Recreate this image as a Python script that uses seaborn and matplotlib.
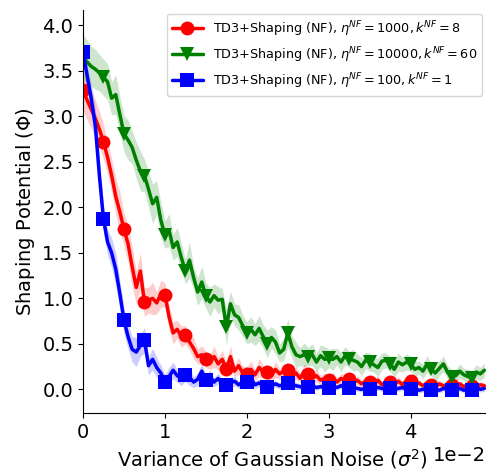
import numpy as np
import pandas as pd
import matplotlib
matplotlib.use("Agg")
import matplotlib.pyplot as plt
import seaborn as sns

# noise variance grid (step 0.0005)
noise_var = np.linspace(0.0, 0.049, 99)

red_mean = [3.29, 3.18, 3.08, 2.98, 2.86, 2.72, 2.55, 2.35, 2.12, 1.95,
            1.76, 1.60, 1.35, 1.12, 1.30, 0.96, 0.98, 1.00, 0.95, 1.05,
            1.04, 0.80, 0.62, 0.66, 0.58, 0.60, 0.52, 0.45, 0.36, 0.38,
            0.33, 0.30, 0.36, 0.28, 0.33, 0.22, 0.36, 0.20, 0.26, 0.18,
            0.17, 0.22, 0.16, 0.24, 0.19, 0.19, 0.15, 0.22, 0.17, 0.20,
            0.21, 0.14, 0.18, 0.12, 0.20, 0.17, 0.12, 0.15, 0.10, 0.12,
            0.10, 0.13, 0.08, 0.12, 0.09, 0.11, 0.07, 0.10, 0.06, 0.09,
            0.08, 0.06, 0.10, 0.05, 0.08, 0.08, 0.06, 0.09, 0.05, 0.10,
            0.09, 0.05, 0.07, 0.04, 0.07, 0.05, 0.03, 0.06, 0.04, 0.05,
            0.05, 0.03, 0.06, 0.03, 0.05, 0.04, 0.03, 0.05, 0.04]
red_err = [0.22, 0.22, 0.21, 0.20, 0.20, 0.19, 0.18, 0.18, 0.20, 0.22,
           0.18, 0.20, 0.22, 0.18, 0.20, 0.16, 0.14, 0.18, 0.12, 0.15,
           0.13, 0.14, 0.12, 0.10, 0.12, 0.10, 0.09, 0.12, 0.08, 0.10,
           0.09, 0.08, 0.12, 0.07, 0.10, 0.08, 0.12, 0.07, 0.09, 0.07,
           0.08, 0.09, 0.06, 0.10, 0.07, 0.08, 0.06, 0.09, 0.06, 0.07,
           0.08, 0.06, 0.07, 0.05, 0.08, 0.06, 0.05, 0.07, 0.05, 0.06,
           0.05, 0.06, 0.04, 0.06, 0.05, 0.05, 0.04, 0.05, 0.04, 0.05,
           0.05, 0.04, 0.05, 0.04, 0.04, 0.05, 0.04, 0.05, 0.04, 0.04,
           0.04, 0.04, 0.04, 0.03, 0.04, 0.04, 0.03, 0.04, 0.03, 0.03,
           0.04, 0.03, 0.04, 0.03, 0.03, 0.03, 0.03, 0.03, 0.03]

green_mean = [3.65, 3.60, 3.55, 3.52, 3.48, 3.43, 3.38, 3.20, 3.24, 3.02,
              2.81, 2.74, 2.66, 2.52, 2.40, 2.35, 2.20, 2.04, 2.11, 1.86,
              1.70, 1.75, 1.56, 1.62, 1.45, 1.30, 1.42, 1.23, 1.07, 1.18,
              1.03, 0.96, 1.03, 0.98, 0.99, 0.68, 0.94, 0.82, 0.79, 0.70,
              0.62, 0.66, 0.60, 0.67, 0.58, 0.50, 0.57, 0.52, 0.40, 0.44,
              0.62, 0.47, 0.38, 0.36, 0.38, 0.36, 0.38, 0.30, 0.37, 0.33,
              0.34, 0.33, 0.36, 0.30, 0.37, 0.33, 0.32, 0.30, 0.25, 0.32,
              0.30, 0.27, 0.24, 0.31, 0.32, 0.28, 0.22, 0.30, 0.27, 0.30,
              0.28, 0.22, 0.24, 0.20, 0.28, 0.22, 0.18, 0.23, 0.28, 0.19,
              0.14, 0.15, 0.20, 0.16, 0.14, 0.13, 0.19, 0.17, 0.21]
green_err = [0.25, 0.24, 0.22, 0.22, 0.20, 0.20, 0.20, 0.18, 0.22, 0.20,
             0.20, 0.22, 0.18, 0.20, 0.22, 0.18, 0.20, 0.22, 0.18, 0.20,
             0.15, 0.18, 0.14, 0.16, 0.15, 0.14, 0.20, 0.12, 0.15, 0.18,
             0.14, 0.16, 0.13, 0.15, 0.12, 0.20, 0.14, 0.12, 0.14, 0.12,
             0.12, 0.14, 0.12, 0.14, 0.13, 0.15, 0.12, 0.13, 0.10, 0.12,
             0.16, 0.12, 0.14, 0.10, 0.13, 0.10, 0.12, 0.10, 0.12, 0.14,
             0.10, 0.12, 0.09, 0.11, 0.10, 0.09, 0.12, 0.09, 0.10, 0.09,
             0.10, 0.08, 0.10, 0.09, 0.08, 0.08, 0.09, 0.10, 0.08, 0.09,
             0.08, 0.09, 0.07, 0.08, 0.09, 0.07, 0.12, 0.08, 0.09, 0.07,
             0.08, 0.07, 0.08, 0.07, 0.08, 0.07, 0.08, 0.07, 0.08]

blue_mean = [3.71, 3.45, 3.20, 2.90, 2.35, 1.87, 1.62, 1.50, 1.32, 1.05,
             0.76, 0.58, 0.44, 0.41, 0.48, 0.54, 0.26, 0.33, 0.24, 0.18,
             0.08, 0.14, 0.21, 0.15, 0.12, 0.16, 0.13, 0.08, 0.11, 0.20,
             0.10, 0.14, 0.08, 0.12, 0.06, 0.05, 0.07, 0.09, 0.05, 0.08,
             0.08, 0.12, 0.05, 0.07, 0.04, 0.03, 0.04, 0.06, 0.04, 0.05,
             0.07, 0.05, 0.04, 0.03, 0.02, 0.03, 0.04, 0.02, 0.03, 0.02,
             0.02, 0.03, 0.02, 0.04, 0.02, 0.01, 0.02, 0.01, 0.00, 0.01,
             0.00, 0.01, 0.02, 0.01, 0.00, 0.01, 0.00, 0.01, 0.02, 0.00,
             0.00, 0.01, -0.01, 0.00, 0.01, -0.01, 0.00, -0.01, 0.01, 0.00,
             -0.01, 0.00, 0.01, -0.01, 0.00, -0.01, 0.02, 0.00, 0.01]
blue_err = [0.10, 0.12, 0.15, 0.18, 0.20, 0.15, 0.14, 0.16, 0.18, 0.15,
            0.14, 0.13, 0.14, 0.16, 0.12, 0.14, 0.10, 0.12, 0.11, 0.09,
            0.08, 0.10, 0.09, 0.07, 0.08, 0.07, 0.09, 0.06, 0.07, 0.08,
            0.06, 0.07, 0.05, 0.06, 0.05, 0.05, 0.06, 0.05, 0.04, 0.05,
            0.04, 0.05, 0.04, 0.04, 0.03, 0.04, 0.03, 0.04, 0.03, 0.04,
            0.04, 0.03, 0.04, 0.03, 0.03, 0.04, 0.03, 0.03, 0.03, 0.03,
            0.03, 0.03, 0.03, 0.03, 0.03, 0.03, 0.03, 0.03, 0.03, 0.03,
            0.03, 0.03, 0.03, 0.03, 0.03, 0.03, 0.03, 0.03, 0.03, 0.03,
            0.03, 0.03, 0.03, 0.03, 0.03, 0.03, 0.03, 0.03, 0.03, 0.03,
            0.03, 0.03, 0.03, 0.03, 0.03, 0.03, 0.03, 0.03, 0.03]

labels = [r"TD3+Shaping (NF), $\eta^{NF}=1000, k^{NF}=8$",
          r"TD3+Shaping (NF), $\eta^{NF}=10000, k^{NF}=60$",
          r"TD3+Shaping (NF), $\eta^{NF}=100, k^{NF}=1$"]
colors = ["red", "green", "blue"]
markers = ["o", "v", "s"]
means = [red_mean, green_mean, blue_mean]
errs = [red_err, green_err, blue_err]

sns.set_style("ticks", {"axes.edgecolor": "black", "xtick.color": "black",
                        "ytick.color": "black", "text.color": "black",
                        "axes.labelcolor": "black"})
plt.rcParams["font.family"] = ["DejaVu Sans"]

fig = plt.figure(figsize=(4.86, 4.74), dpi=100)
ax = fig.add_axes([83 / 486, 61 / 474, (486 - 83) / 486, (464 - 61) / 474])

for lab, col, mk, m, e in zip(labels, colors, markers, means, errs):
    m = np.array(m)
    e = np.array(e)
    df = pd.DataFrame({"x": noise_var, "y": m})
    sns.lineplot(data=df, x="x", y="y", ax=ax, color=col, marker=mk,
                 markevery=5, markersize=10, markeredgewidth=0,
                 linewidth=2.5, label=lab)
    ax.fill_between(noise_var, m - e, m + e, color=col, alpha=0.2, linewidth=0)

ax.set_xlim(0, 0.0492)
ax.set_ylim(-0.26, 4.17)
ax.set_xticks([0, 0.01, 0.02, 0.03, 0.04])
ax.set_yticks([0, 0.5, 1.0, 1.5, 2.0, 2.5, 3.0, 3.5, 4.0])
ax.ticklabel_format(axis="x", style="sci", scilimits=(0, 0))
ax.tick_params(labelsize=14)
ax.xaxis.get_offset_text().set_fontsize(14)
ax.set_xlabel(r"Variance of Gaussian Noise ($\sigma^2$)", fontsize=14,
              x=0.47, ha="center")
ax.set_ylabel(r"Shaping Potential ($\Phi$)", fontsize=14)
sns.despine(ax=ax)
ax.legend(loc="upper right", fontsize=9.2, handlelength=2.4,
          borderaxespad=0.3)

fig.savefig("out.png", dpi=100)
